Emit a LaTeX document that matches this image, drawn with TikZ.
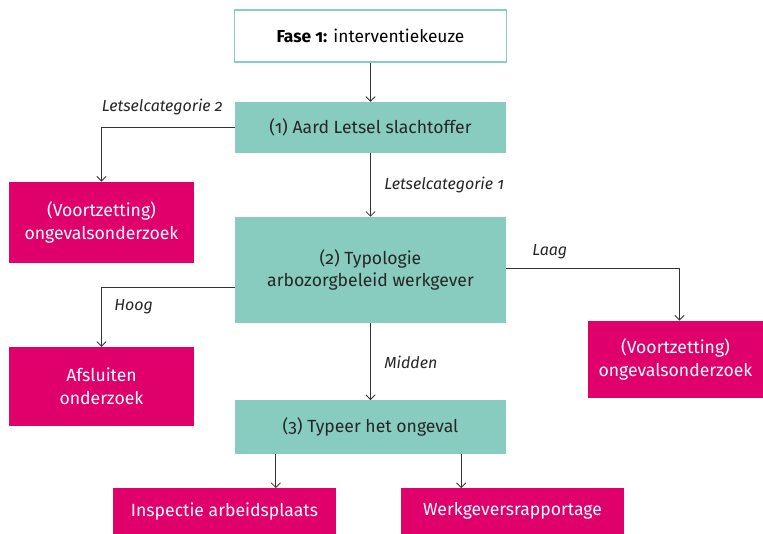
\documentclass[tikz,border=0pt]{standalone}
\usepackage{fontspec}
\setmainfont{Fira Sans}[Numbers=OldStyle]
\usetikzlibrary{arrows.meta}
\definecolor{teal1}{HTML}{88CCC0}
\definecolor{magenta1}{HTML}{E0006B}
\definecolor{lijn}{HTML}{333333}
\tikzset{
	fasebox/.style={draw=teal1, line width=1.2pt, fill=white, text=black, minimum width=204pt, minimum height=39pt, align=center, font=\fontsize{13}{16}\selectfont},
	stapbox/.style={fill=teal1, text=black!85, minimum width=203pt, align=center, font=\fontsize{13.2}{17}\selectfont},
	eindbox/.style={fill=magenta1, text=white, align=center, font=\fontsize{13.2}{17}\selectfont},
	pijl/.style={draw=lijn, line width=0.65pt, -{Straight Barb[length=3.5pt,width=7pt]}},
	keuze/.style={font=\itshape\fontsize{12}{14}\selectfont, text=black!85, inner sep=0pt}
}
\begin{document}
\begin{tikzpicture}[x=0.75pt, y=-0.75pt]
	\useasboundingbox (0,0) rectangle (763,533);
	%% Stappen
	\node[fasebox] (fase) at (370.5,36) {\textbf{Fase 1:} interventiekeuze};
	\node[stapbox, minimum height=38pt] (aard) at (370.5,127.5) {(1) Aard Letsel slachtoffer};
	\node[stapbox, minimum height=79.5pt] (typo) at (370.5,270) {(2) Typologie\\arbozorgbeleid werkgever};
	\node[stapbox, minimum height=40pt] (typeer) at (370.5,427) {(3) Typeer het ongeval};
	%%%%%%%%%%%%%%%%

	%% Uitkomsten
	\node[eindbox, minimum width=139pt, minimum height=61pt] (vervolgL) at (101.5,222.5) {(Voortzetting)\\ongevalsonderzoek};
	\node[eindbox, minimum width=139pt, minimum height=59pt] (afsluiten) at (101.5,386.5) {Afsluiten\\onderzoek};
	\node[eindbox, minimum width=131pt, minimum height=58pt] (vervolgR) at (675.5,359.5) {(Voortzetting)\\ongevalsonderzoek};
	\node[eindbox, minimum width=167pt, minimum height=34pt] (inspectie) at (224.5,511) {Inspectie arbeidsplaats};
	\node[eindbox, minimum width=167pt, minimum height=34pt] (rapportage) at (512.5,511) {Werkgeversrapportage};
	%%%%%%%%%%%%%%%%

	%% Verbindingen
	\draw[pijl] (fase) -- (aard);
	\draw[pijl] (aard) -- (typo);
	\draw[pijl] (typo) -- (typeer);
	\draw[pijl] (aard.west) -| (vervolgL.north);
	\draw[pijl] ([yshift=-13pt]typo.west) -| (afsluiten.north);
	\draw[pijl] ([yshift=1.5pt]typo.east) -| ([xshift=3pt]vervolgR.north);
	\draw[pijl] ([xshift=-71pt]typeer.south) -- ([xshift=-71pt]typeer.south |- inspectie.north);
	\draw[pijl] ([xshift=68pt]typeer.south) -- ([xshift=68pt]typeer.south |- rapportage.north);

	%% Keuzes
	\node[keuze, anchor=east] (cat2) at (223,107) {Letselcategorie 2};
	\node[keuze, anchor=west] (cat1) at (384,185) {Letselcategorie 1};
	\node[keuze, anchor=west] (laag) at (532,252) {Laag};
	\node[keuze, anchor=west] (hoog) at (114,307) {Hoog};
	\node[keuze, anchor=west] (midden) at (384,362) {Midden};
\end{tikzpicture}
\end{document}
